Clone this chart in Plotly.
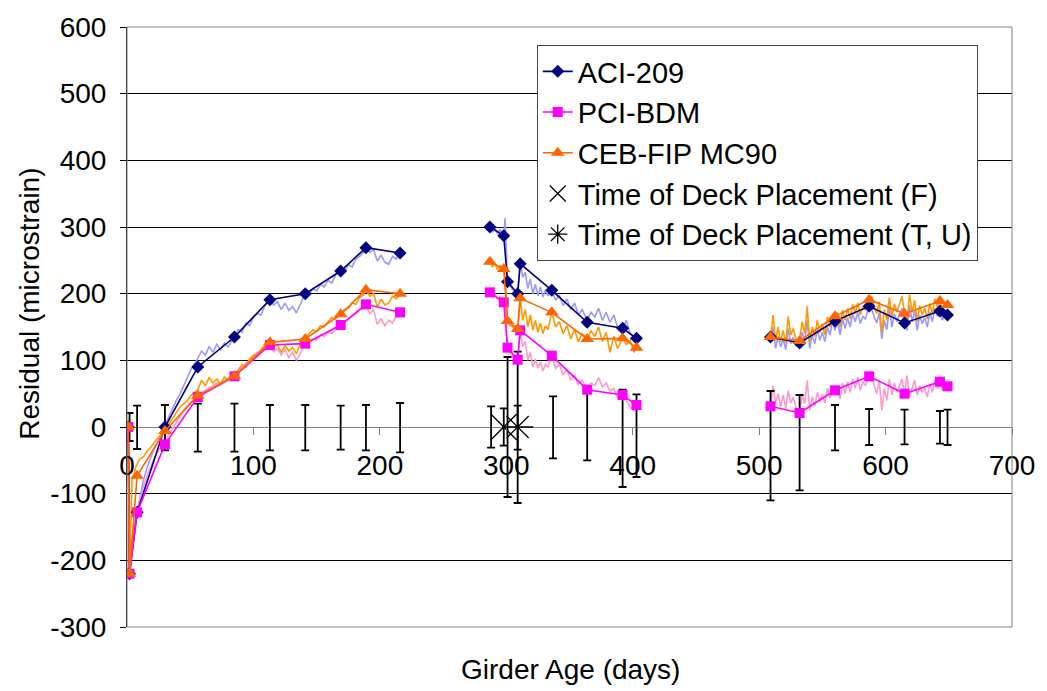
import plotly.graph_objects as go

FONT = "Liberation Sans, Arial, sans-serif"

# ---------------- measured series (markers) ----------------
meas_days = [1, 2, 8, 30, 56, 85, 113, 141, 169, 189, 216, None,
             287, 298, 301, 309, 311, 336, 364, 392, 403, None,
             509, 532, 560, 587, 615, 643, 649]
aci209 = [0, -220, -128, 0, 90, 135, 191, 200, 234, 269, 261, None,
          300, 287, 218, 200, 245, 205, 157, 148, 133, None,
          135, 126, 159, 181, 156, 174, 168]
pci_bdm = [0, -220, -128, -26, 45, 76, 123, 125, 153, 184, 172, None,
           202, 187, 119, 101, 145, 107, 56, 48, 33, None,
           31, 21, 55, 76, 50, 68, 61]
ceb_fip = [0, -220, -73, -6, 47, 76, 127, 132, 169, 206, 200, None,
           248, 237, 159, 147, 193, 172, 132, 133, 119, None,
           135, 129, 166, 191, 170, 189, 183]

# ---------------- thin (daily) curves ----------------
thin_days = [1, 2, 4, 7, 10, 13, 16, 19, 22, 25,
             28, 30, 33, 36, 39, 42, 45, 48, 51, 54,
             56, 59, 62, 65, 68, 71, 74, 77, 80, 83,
             85, 88, 91, 94, 97, 100, 103, 106, 109, 113,
             116, 119, 122, 125, 128, 131, 134, 137, 141, 144,
             147, 150, 153, 156, 159, 162, 165, 169, 172, 175,
             178, 181, 184, 187, 189, 192, 195, 198, 201, 204,
             207, 210, 213, 216, None,
             287, 289, 291, 293, 295, 297, 298, 299, 301, 303,
             305, 307, 309, 311, 313, 315, 317, 319, 321, 323,
             325, 327, 329, 331, 333, 336, 339, 342, 345, 348,
             351, 354, 357, 360, 364, 367, 370, 373, 376, 379,
             382, 385, 388, 392, 395, 398, 401, 403, None,
             509, 511, 513, 515, 517, 519, 521, 523, 525, 527,
             529, 532, 534, 536, 538, 540, 542, 544, 546, 548,
             550, 552, 554, 556, 558, 560, 562, 564, 566, 568,
             570, 572, 574, 576, 578, 580, 582, 584, 587, 589,
             591, 593, 595, 597, 599, 601, 603, 605, 607, 609,
             611, 613, 615, 617, 619, 621, 623, 625, 627, 629,
             631, 633, 635, 637, 639, 641, 643, 645, 647, 649]

aci_thin = [0, -220, -165, -135, -105, -80, -60, -45, -30, -20,
            -8, 2, 15, 28, 40, 50, 62, 75, 88, 96,
            104, 114, 108, 121, 112, 124, 116, 126, 120, 130,
            137, 146, 142, 156, 152, 165, 170, 168, 182, 191,
            183, 188, 176, 186, 175, 181, 171, 184, 201, 197,
            208, 204, 214, 210, 220, 216, 228, 236, 232, 244,
            240, 252, 256, 262, 270, 262, 266, 249, 258, 247,
            244, 256, 252, 261, None,
            300, 292, 298, 290, 296, 289, 287, 313, 218, 212,
            206, 203, 200, 245, 225, 232, 208, 222, 200, 214,
            197, 210, 195, 206, 197, 205, 190, 198, 182, 192,
            176, 186, 168, 176, 160, 172, 165, 178, 160, 172,
            157, 168, 150, 148, 160, 140, 136, 133, None,
            135, 150, 118, 136, 120, 132, 116, 148, 125, 135,
            122, 126, 142, 128, 160, 118, 138, 125, 146, 130,
            142, 128, 150, 138, 159, 145, 158, 138, 162, 148,
            164, 150, 170, 158, 172, 155, 166, 162, 181, 178,
            165, 156, 172, 132, 160, 146, 178, 150, 170, 158,
            170, 178, 156, 145, 182, 158, 175, 145, 168, 155,
            164, 150, 172, 158, 178, 166, 174, 160, 172, 168]

pci_thin = [0, -220, -170, -140, -110, -90, -72, -58, -45, -35,
            -28, -24, -12, -2, 8, 18, 26, 33, 38, 44,
            46, 52, 55, 58, 62, 66, 64, 70, 74, 76,
            78, 84, 90, 96, 100, 106, 112, 114, 118, 122,
            113, 118, 108, 116, 104, 112, 100, 110, 124, 128,
            132, 130, 138, 136, 142, 140, 146, 152, 156, 162,
            166, 170, 176, 178, 184, 170, 176, 154, 162, 152,
            160, 156, 166, 172, None,
            202, 196, 199, 192, 195, 189, 187, 180, 119, 112,
            106, 104, 101, 145, 120, 128, 100, 112, 90, 102,
            88, 98, 84, 94, 90, 107, 88, 94, 78, 86,
            70, 78, 64, 70, 56, 66, 62, 74, 60, 66,
            54, 58, 44, 48, 40, 30, 24, 33, None,
            31, 62, 35, 50, 30, 48, 28, 55, 36, 45,
            30, 21, 48, 35, 70, 25, 45, 32, 52, 38,
            50, 36, 58, 44, 55, 48, 62, 42, 66, 50,
            68, 52, 72, 58, 75, 55, 68, 62, 76, 80,
            62, 50, 70, 25, 58, 40, 72, 48, 66, 52,
            62, 72, 50, 77, 45, 58, 70, 48, 62, 52,
            58, 45, 65, 52, 70, 58, 68, 55, 66, 61]

ceb_thin = [0, -220, -80, -60, -48, -45, -36, -30, -22, -15,
            -10, -4, 5, 12, 22, 30, 35, 40, 48, 52,
            56, 70, 62, 74, 66, 72, 64, 75, 70, 80,
            78, 86, 94, 90, 102, 108, 106, 116, 122, 128,
            120, 124, 112, 122, 114, 119, 110, 125, 133, 140,
            146, 143, 152, 150, 158, 164, 162, 170, 176, 178,
            186, 184, 194, 198, 207, 196, 200, 180, 192, 183,
            186, 196, 192, 200, None,
            248, 240, 246, 236, 242, 238, 237, 230, 159, 152,
            150, 148, 147, 193, 160, 176, 150, 168, 145, 160,
            142, 156, 140, 152, 146, 172, 150, 158, 140, 152,
            132, 146, 128, 140, 132, 144, 136, 150, 128, 142,
            112, 136, 118, 133, 124, 130, 112, 119, None,
            135, 168, 130, 150, 128, 145, 126, 166, 138, 148,
            132, 129, 158, 140, 181, 128, 150, 136, 160, 142,
            155, 138, 165, 150, 166, 158, 172, 150, 175, 160,
            178, 162, 184, 170, 186, 168, 180, 176, 191, 196,
            180, 170, 188, 142, 176, 160, 194, 165, 185, 172,
            184, 196, 170, 160, 199, 172, 190, 158, 182, 168,
            178, 162, 185, 170, 192, 180, 189, 176, 186, 183]

# ---------------- error bars (measurement scatter) ----------------
err_days = [2, 8, 30, 56, 85, 113, 141, 169, 189, 216,
            288, 298, 301, 309, 309, 337, 364, 392, 403,
            509, 532, 560, 587, 615, 643, 649]
err_center = [0, 0, 0, 0, 0, 0, 0, 0, 0, 0,
              0, 0, 0, 0, 0, 0, 0, 0, 0,
              0, 0, 0, 0, 0, 0, 0]
err_plus = [21, 32, 33, 35, 35, 33, 33, 32, 33, 36,
            31, 28, 105, 32, 113, 46, 57, 56, 49,
            54, 48, 33, 27, 26, 24, 26]
err_minus = [21, 33, 35, 37, 37, 35, 35, 34, 35, 38,
             31, 28, 105, 34, 114, 47, 50, 90, 75,
             110, 95, 35, 27, 26, 25, 27]

# ---------------- deck placement ----------------
deck_f_day = [298]
deck_f_val = [0]
deck_tu_day = [309]
deck_tu_val = [0]

x_ticks = [0, 100, 200, 300, 400, 500, 600, 700]
y_ticks = [-300, -200, -100, 0, 100, 200, 300, 400, 500, 600]

fig = go.Figure()

# thin curves (not in legend)
for vals, col in [(aci_thin, "#9999FF"), (pci_thin, "#FF99CC"), (ceb_thin, "#FF9900")]:
    fig.add_trace(go.Scatter(x=thin_days, y=vals, mode="lines",
                             line=dict(color=col, width=1.6),
                             showlegend=False, hoverinfo="skip", connectgaps=False))

# error bars
fig.add_trace(go.Scatter(x=err_days, y=err_center, mode="markers",
                         marker=dict(size=1, color="rgba(0,0,0,0)"),
                         error_y=dict(type="data", symmetric=False, array=err_plus,
                                      arrayminus=err_minus, color="black",
                                      thickness=1.8, width=4),
                         showlegend=False, hoverinfo="skip"))

# measured series
fig.add_trace(go.Scatter(x=meas_days, y=aci209, mode="lines+markers", name="ACI-209",
                         line=dict(color="#000080", width=1.6),
                         marker=dict(symbol="diamond", size=10, color="#000080"),
                         connectgaps=False))
fig.add_trace(go.Scatter(x=meas_days, y=pci_bdm, mode="lines+markers", name="PCI-BDM",
                         line=dict(color="#FF00FF", width=1.6),
                         marker=dict(symbol="square", size=10, color="#FF00FF"),
                         connectgaps=False))
fig.add_trace(go.Scatter(x=meas_days, y=ceb_fip, mode="lines+markers", name="CEB-FIP MC90",
                         line=dict(color="#FF6600", width=1.6),
                         marker=dict(symbol="triangle-up", size=12, color="#FF6600"),
                         connectgaps=False))
fig.add_trace(go.Scatter(x=deck_f_day, y=deck_f_val, mode="markers",
                         name="Time of Deck Placement (F)",
                         marker=dict(symbol="x-thin-open", size=26, color="black",
                                     line=dict(color="black", width=1.3))))
fig.add_trace(go.Scatter(x=deck_tu_day, y=deck_tu_val, mode="markers",
                         name="Time of Deck Placement (T, U)",
                         marker=dict(symbol="asterisk-open", size=26, color="black",
                                     line=dict(color="black", width=1.3))))

fig.update_layout(
    width=1047, height=691,
    margin=dict(l=127, r=27, t=20, b=64),
    paper_bgcolor="white", plot_bgcolor="white",
    font=dict(family=FONT, size=28, color="black"),
    showlegend=True,
    legend=dict(x=0.463, y=0.97, xanchor="left", yanchor="top",
                bgcolor="white", bordercolor="#444444", borderwidth=1,
                font=dict(family=FONT, size=29, color="black"),
                itemsizing="trace", tracegroupgap=0),
    xaxis=dict(range=[0, 700], tickvals=x_ticks, ticktext=[str(v) for v in x_ticks],
               anchor="free", position=1/3, showline=False, showgrid=False,
               zeroline=False, ticks="outside", ticklen=7, tickcolor="#808080",
               ticklabelstandoff=6,
               tickfont=dict(family=FONT, size=28, color="black")),
    yaxis=dict(range=[-300, 600], tickvals=y_ticks, ticktext=[str(v) for v in y_ticks],
               showline=True, linecolor="black", linewidth=1,
               showgrid=True, gridcolor="black", gridwidth=1,
               zeroline=True, zerolinecolor="#808080", zerolinewidth=1,
               ticks="outside", ticklen=6, tickcolor="black",
               ticklabelstandoff=8,
               tickfont=dict(family=FONT, size=28, color="black")),
    shapes=[dict(type="rect", xref="paper", yref="paper", x0=0, x1=1, y0=0, y1=1,
                 line=dict(color="#808080", width=1), fillcolor="rgba(0,0,0,0)",
                 layer="above")],
    annotations=[
        dict(text="Girder Age (days)", xref="paper", yref="paper",
             x=(575 - 127) / 893, y=(627 - 670) / 607, xanchor="center", yanchor="middle",
             showarrow=False, font=dict(family=FONT, size=28, color="black")),
        dict(text="Residual (microstrain)", xref="paper", yref="paper",
             x=0, xshift=-97, y=(627 - 300) / 607, xanchor="center", yanchor="middle",
             textangle=-90, showarrow=False, font=dict(family=FONT, size=28, color="black")),
    ],
)

fig.write_html("out.html")
